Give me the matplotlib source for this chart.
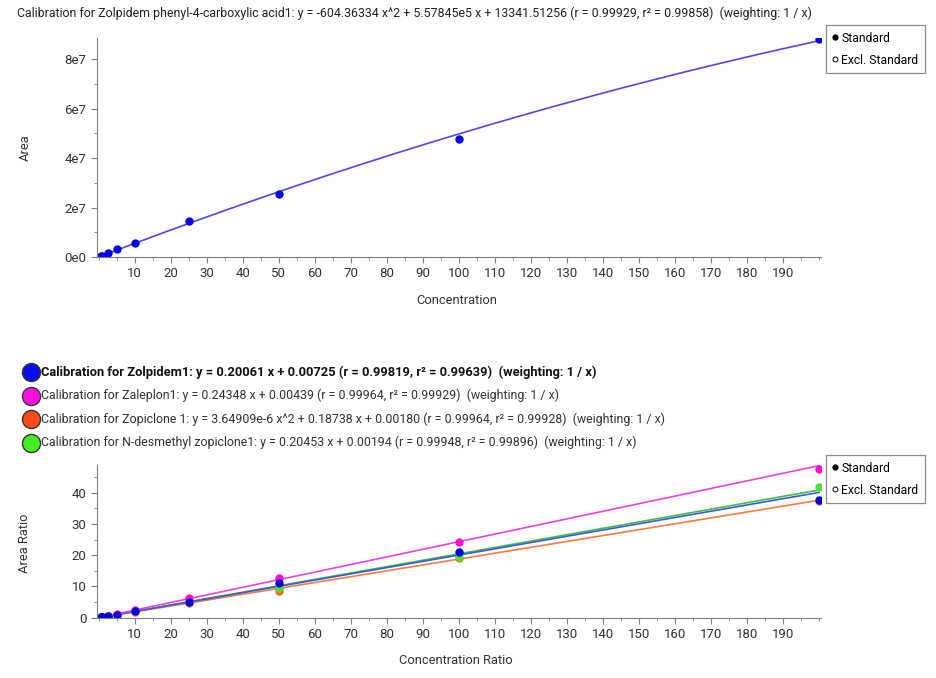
import numpy as np
import matplotlib
matplotlib.use("Agg")
import matplotlib.pyplot as plt
from matplotlib.lines import Line2D
from matplotlib.ticker import MultipleLocator, FuncFormatter

plt.rcParams['font.family'] = ['Roboto', 'DejaVu Sans']

# calibration levels
conc = [0.5, 1, 2.5, 5, 10, 25, 50, 100, 200]

# top chart: Zolpidem phenyl-4-carboxylic acid (peak area)
zpca_area = [0.03e7, 0.06e7, 0.17e7, 0.34e7, 0.57e7, 1.47e7, 2.56e7, 4.75e7, 8.8e7]
zpca_coef = [-604.36334, 5.57845e5, 13341.51256]

# bottom chart: area ratios
zolpidem = [0.1, 0.2, 0.5, 1.0, 2.1, 5.1, 11.0, 21.1, 37.7]
zaleplon = [0.12, 0.25, 0.6, 1.2, 2.4, 6.2, 12.8, 24.3, 47.6]
zopiclone = [0.09, 0.19, 0.47, 0.95, 1.9, 4.8, 8.6, 19.0, 37.4]
ndesmethyl = [0.1, 0.2, 0.5, 1.0, 2.0, 5.0, 9.6, 19.3, 41.9]

zolpidem_coef = [0.20061, 0.00725]
zaleplon_coef = [0.24348, 0.00439]
zopiclone_coef = [3.64909e-6, 0.18738, 0.00180]
ndesmethyl_coef = [0.20453, 0.00194]

top_title = ("Calibration for Zolpidem phenyl-4-carboxylic acid1: y = -604.36334 x^2 + 5.57845e5 x + "
             "13341.51256 (r = 0.99929, r\u00b2 = 0.99858)  (weighting: 1 / x)")
bottom_titles = [
    "Calibration for Zolpidem1: y = 0.20061 x + 0.00725 (r = 0.99819, r\u00b2 = 0.99639)  (weighting: 1 / x)",
    "Calibration for Zaleplon1: y = 0.24348 x + 0.00439 (r = 0.99964, r\u00b2 = 0.99929)  (weighting: 1 / x)",
    "Calibration for Zopiclone 1: y = 3.64909e-6 x^2 + 0.18738 x + 0.00180 (r = 0.99964, r\u00b2 = 0.99928)  (weighting: 1 / x)",
    "Calibration for N-desmethyl zopiclone1: y = 0.20453 x + 0.00194 (r = 0.99948, r\u00b2 = 0.99896)  (weighting: 1 / x)",
]
legend_colors = ['#0a0aee', '#ff10e0', '#ff4a1a', '#44ee22']

W, H = 936, 678
fig = plt.figure(figsize=(W / 100, H / 100), dpi=100)
fig.patch.set_facecolor('white')


def style_axis(ax):
    for s in ['top', 'right']:
        ax.spines[s].set_visible(False)
    for s in ['left', 'bottom']:
        ax.spines[s].set_color('#808080')
    ax.tick_params(which='both', colors='#808080', labelcolor='#333333', labelsize=9.5, direction='out')
    ax.tick_params(which='major', length=4)
    ax.tick_params(which='minor', length=2)
    ax.set_xlim(-0.5, 200.5)
    ax.set_xticks(np.arange(10, 200, 10))
    ax.xaxis.set_minor_locator(MultipleLocator(5))


def add_std_legend(ax, x, y):
    handles = [Line2D([], [], marker='o', ls='none', color='black', markersize=3.5),
               Line2D([], [], marker='o', ls='none', markerfacecolor='white',
                      markeredgecolor='black', markersize=3.5, markeredgewidth=0.7)]
    leg = ax.legend(handles, ['Standard', 'Excl. Standard'], loc='upper left',
                    bbox_to_anchor=(x / W, 1 - y / H), bbox_transform=fig.transFigure,
                    borderaxespad=0, fancybox=False, edgecolor='#707070', fontsize=8.7,
                    handlelength=0.4, handletextpad=0.3, borderpad=0.55, labelspacing=0.75)
    leg.get_frame().set_linewidth(0.9)


xfit = np.linspace(conc[0], conc[-1], 200)

# ---- top chart
ax1 = fig.add_axes([97 / W, 1 - 257 / H, 724 / W, 219 / H])
style_axis(ax1)
ax1.set_ylim(0, 8.85e7)
ax1.set_yticks([0, 2e7, 4e7, 6e7, 8e7])
ax1.yaxis.set_minor_locator(MultipleLocator(1e7))
ax1.yaxis.set_major_formatter(FuncFormatter(lambda v, p: "%de7" % round(v / 1e7) if v else "0e0"))
ax1.plot(xfit, np.polyval(zpca_coef, xfit), color='#4a4ae8', lw=1.2)
ax1.plot(conc, zpca_area, 'o', color='#0000ee', markersize=5)
add_std_legend(ax1, 826, 25)

fig.text(17 / W, 1 - 13 / H, top_title, fontsize=8.9, color='#222222', va='center', ha='left')
fig.text(457 / W, 1 - 301 / H, 'Concentration', fontsize=9.3, color='#333333', ha='center', va='center')
fig.text(25 / W, 1 - 148 / H, 'Area', fontsize=9.3, color='#333333', ha='center', va='center', rotation=90)

# ---- bottom chart
ax2 = fig.add_axes([97 / W, 1 - 617.7 / H, 724 / W, 153 / H])
style_axis(ax2)
ax2.set_ylim(0, 49)
ax2.set_yticks([0, 10, 20, 30, 40])
ax2.yaxis.set_minor_locator(MultipleLocator(5))

ax2.plot(xfit, np.polyval(zopiclone_coef, xfit), color='#ff7a40', lw=1.2)
ax2.plot(xfit, np.polyval(ndesmethyl_coef, xfit), color='#40c040', lw=1.2)
ax2.plot(xfit, np.polyval(zolpidem_coef, xfit), color='#3a5ad8', lw=1.2)
ax2.plot(xfit, np.polyval(zaleplon_coef, xfit), color='#f040e0', lw=1.2)
ax2.plot(conc, zopiclone, 'o', color='#ff6020', markersize=5)
ax2.plot(conc, ndesmethyl, 'o', color='#50e030', markersize=5)
ax2.plot(conc, zaleplon, 'o', color='#ff10d0', markersize=5)
ax2.plot(conc, zolpidem, 'o', color='#0000dd', markersize=5)
add_std_legend(ax2, 826, 455)

line_y = [372, 395.5, 419, 442.5]
for i, (txt, c, yy) in enumerate(zip(bottom_titles, legend_colors, line_y)):
    fig.add_artist(Line2D([31 / W], [1 - yy / H], marker='o', markersize=13, color=c,
                          markeredgecolor='#333333', markeredgewidth=1.0, transform=fig.transFigure))
    fig.text(41 / W, 1 - yy / H, txt, fontsize=9.3 if i == 0 else 8.9,
             color='#111111' if i == 0 else '#333333',
             fontweight='bold' if i == 0 else 'normal', va='center', ha='left')

fig.text(456 / W, 1 - 661 / H, 'Concentration Ratio', fontsize=9.3, color='#333333', ha='center', va='center')
fig.text(25 / W, 1 - 543 / H, 'Area Ratio', fontsize=9.3, color='#333333', ha='center', va='center', rotation=90)

fig.savefig('out.png', dpi=100)
